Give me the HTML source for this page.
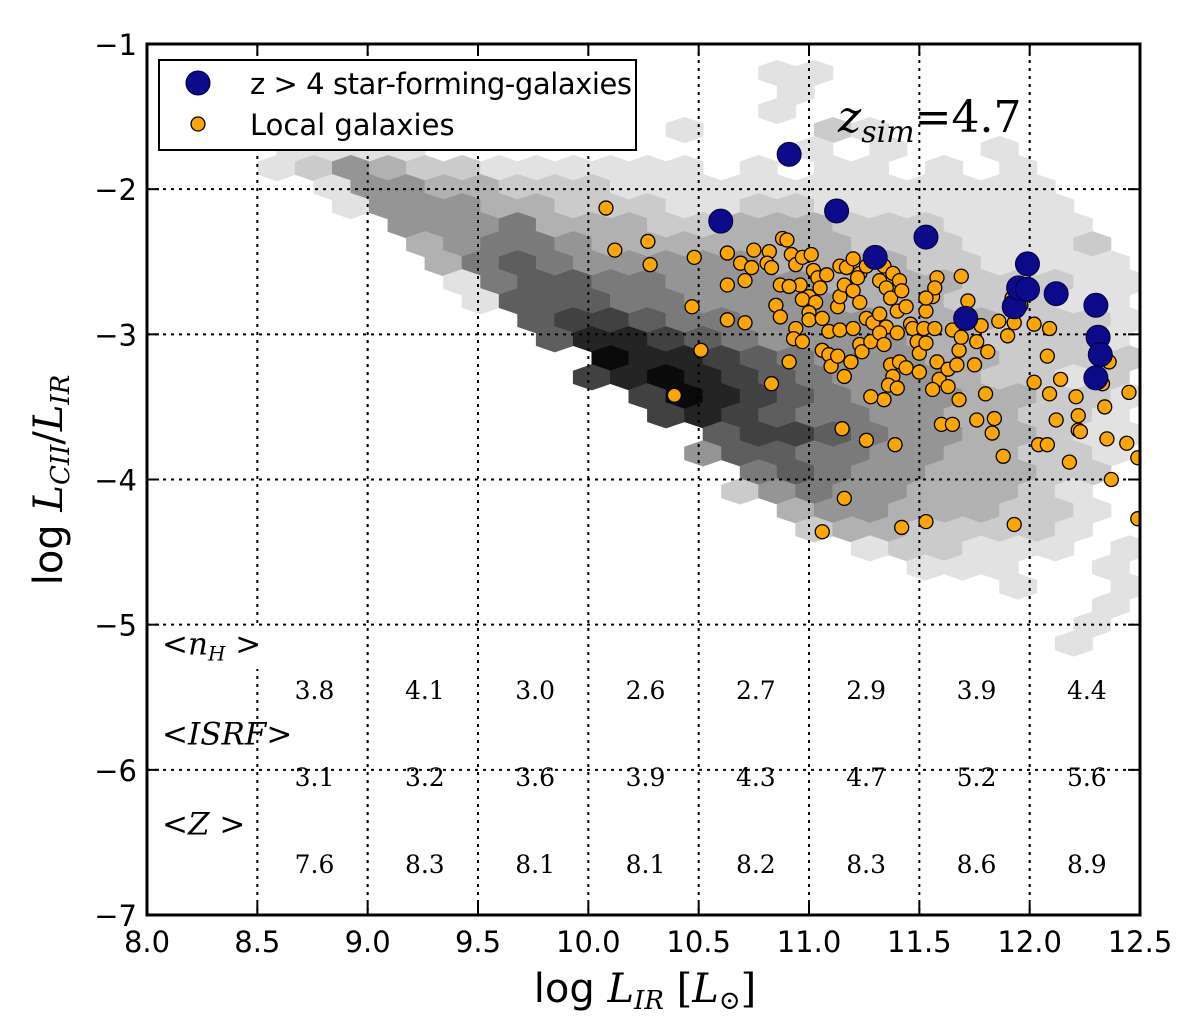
<!DOCTYPE html>
<html><head><meta charset="utf-8"><style>
html,body{margin:0;padding:0;background:#fff;}
svg{display:block;}
.tick{font-family:"DejaVu Sans","Liberation Sans",sans-serif;font-size:29px;fill:#000;}
.mth{font-family:"DejaVu Serif","Liberation Serif",serif;fill:#000;}
</style></head><body>
<svg id="chart" width="1200" height="1019" viewBox="0 0 1200 1019" xmlns="http://www.w3.org/2000/svg">
<defs><clipPath id="clip"><rect x="147" y="44" width="993" height="871"/></clipPath></defs>
<rect width="1200" height="1019" fill="#fff"/>
<g id="hexes" clip-path="url(#clip)"></g>
<g id="grid"></g>
<rect x="149" y="627" width="132" height="42" fill="#fff"/>
<g id="pts" clip-path="url(#clip)"></g>
<g id="ticks"></g>
<rect x="147" y="44" width="993" height="871" fill="none" stroke="#000" stroke-width="3"/>
<g id="table"></g>
<g>
<rect x="159" y="60" width="477" height="90" fill="#fff" stroke="#000" stroke-width="2"/>
<circle cx="198" cy="83" r="12" fill="#0a0a8a" stroke="#000033" stroke-width="1"/>
<text class="tick" x="250" y="94" font-size="27" textLength="382">z &gt; 4 star-forming-galaxies</text>
<circle cx="198" cy="124" r="7" fill="#ffa500" stroke="#000" stroke-width="1.3"/>
<text class="tick" x="250" y="135" font-size="27">Local galaxies</text>
</g>
<text class="mth" x="838" y="132" font-size="44"><tspan font-style="italic">z</tspan><tspan font-style="italic" font-size="30" dy="10">sim</tspan><tspan dy="-10">=4.7</tspan></text>
<text x="645" y="1002" text-anchor="middle" font-size="40" font-family="DejaVu Sans, Liberation Sans, sans-serif">log <tspan class="mth" font-style="italic">L</tspan><tspan class="mth" font-style="italic" font-size="26" dy="7">IR</tspan><tspan class="mth" dy="-7"> [</tspan><tspan class="mth" font-style="italic">L</tspan><tspan class="mth" font-size="26" dy="7">⊙</tspan><tspan class="mth" dy="-7">]</tspan></text>
<text transform="translate(62,480) rotate(-90)" text-anchor="middle" font-size="40" font-family="DejaVu Sans, Liberation Sans, sans-serif">log <tspan class="mth" font-style="italic">L</tspan><tspan class="mth" font-style="italic" font-size="26" dy="7">CII</tspan><tspan class="mth" dy="-7">/</tspan><tspan class="mth" font-style="italic">L</tspan><tspan class="mth" font-style="italic" font-size="26" dy="7">IR</tspan></text>
</svg>
<script>
const xTicks=["8.0","8.5","9.0","9.5","10.0","10.5","11.0","11.5","12.0","12.5"];
const yTicks=["−1","−2","−3","−4","−5","−6","−7"];
const yTickVals=[-1,-2,-3,-4,-5,-6,-7];
const hexX0=8.0, hexDX=0.168, hexY0=-1.2, hexDY=0.131;
const hexRows=[
"000000000000000001100000000","000000000000000001000000000","000000000000000001000000000",
"000000000000001000210000000","000011110000000000101001000","000124322111111010110101000",
"000001443322211111111111100","000001444332221122111111100","000000044453332233322211110",
"000000034554333333322211120","000000003565444443333221111","000000001566554444333322211",
"000000000166655444433322211","000000000067765544443332221","000000000006887654444332221",
"000000000000988765444332222","000000000000789876544432212","000000000000079876544433221",
"000000000000007876554433221","000000000000000677654433211","000000000000000466554433221",
"000000000000000056544333220","000000000000000024544333210","000000000000000003443332210",
"000000000000000000233222210","000000000000000000012211101","000000000000000000000111001",
"000000000000000000000001001","000000000000000000000000001","000000000000000000000000010",
"000000000000000000000000010"];
const highzX=[10.6,10.91,11.125,11.3,11.53,11.71,11.93,11.95,11.99,11.99,12.12,12.3,12.31,12.32,12.3];
const highzY=[-2.22,-1.76,-2.15,-2.47,-2.33,-2.89,-2.81,-2.68,-2.69,-2.515,-2.72,-2.80,-3.02,-3.14,-3.30];
const localPts=[[10.08,-2.13],[10.12,-2.42],[10.27,-2.36],[10.28,-2.52],[10.48,-2.47],[10.47,-2.81],[10.51,-3.11],[10.39,-3.42],
[10.63,-2.44],[10.63,-2.66],[10.63,-2.90],[10.71,-2.92],[10.71,-2.63],[10.69,-2.51],[10.75,-2.42],[10.74,-2.54],[10.82,-2.43],[10.81,-2.51],[10.83,-2.54],
[10.87,-2.66],[10.85,-2.80],[10.87,-2.88],[10.88,-2.34],[10.90,-2.35],[10.92,-2.45],[10.94,-2.52],[10.96,-2.66],[10.91,-2.67],[10.97,-2.47],[11.01,-2.45],
[11.02,-2.56],[11.04,-2.61],[11.08,-2.59],[11.05,-2.68],[11.00,-2.74],[10.97,-2.76],[11.03,-2.78],[11.00,-2.85],[11.00,-2.90],[11.06,-2.89],[10.94,-2.96],
[10.93,-3.03],[10.97,-3.05],[10.91,-3.19],[10.83,-3.34],[11.06,-3.11],[11.09,-3.14],[11.10,-3.22],[11.13,-3.15],[11.16,-3.29],[11.09,-2.98],[11.14,-2.97],
[11.13,-2.81],[11.14,-2.74],[11.14,-2.53],[11.17,-2.54],[11.20,-2.48],[11.16,-2.66],[11.20,-2.70],[11.23,-2.58],[11.22,-2.61],[11.26,-2.53],[11.23,-2.78],
[11.26,-2.89],[11.20,-2.96],[11.19,-3.19],[11.23,-3.07],[11.24,-3.12],[11.28,-3.05],[11.29,-2.92],[11.32,-2.86],[11.34,-2.53],[11.32,-2.63],[11.35,-2.68],
[11.38,-2.58],[11.37,-2.75],[11.41,-2.63],[11.42,-2.70],[11.40,-2.84],[11.44,-2.81],[11.46,-2.93],[11.35,-2.95],[11.32,-2.99],[11.40,-2.99],[11.34,-3.07],
[11.37,-3.21],[11.41,-3.19],[11.44,-3.23],[11.38,-3.29],[11.36,-3.35],[11.34,-3.45],[11.28,-3.43],[11.40,-3.37],[11.47,-2.96],[11.49,-3.05],[11.52,-2.96],
[11.53,-2.84],[11.56,-2.74],[11.58,-2.61],[11.57,-2.68],[11.53,-2.75],[11.50,-3.13],[11.50,-3.26],[11.53,-3.06],[11.57,-2.96],[11.58,-3.19],[11.59,-3.31],
[11.56,-3.38],[11.63,-3.36],[11.63,-3.24],[11.67,-3.21],[11.68,-3.11],[11.65,-2.97],[11.69,-3.02],[11.70,-2.89],[11.72,-2.77],[11.69,-2.60],[11.75,-3.21],
[11.76,-3.05],[11.78,-2.94],[11.81,-3.12],[11.80,-3.41],[11.68,-3.45],[11.86,-2.91],[11.90,-3.01],[11.92,-2.75],[11.96,-2.80],[11.93,-2.92],[12.02,-2.93],
[12.09,-2.96],[12.08,-3.15],[12.02,-3.33],[12.09,-3.41],[12.14,-3.31],[12.21,-3.43],[12.22,-3.56],[12.22,-3.66],[12.23,-3.67],[12.18,-3.88],[12.12,-3.59],
[12.04,-3.76],[12.08,-3.76],[11.88,-3.84],[11.84,-3.58],[11.83,-3.68],[11.76,-3.59],[11.60,-3.62],[11.65,-3.62],[11.39,-3.76],[11.26,-3.73],[11.15,-3.65],
[11.16,-4.13],[11.06,-4.36],[11.42,-4.33],[11.53,-4.29],[11.93,-4.31],[12.36,-3.19],[12.33,-3.34],[12.34,-3.50],[12.35,-3.72],[12.37,-4.00],[12.45,-3.40],
[12.49,-3.85],[12.44,-3.75],[12.49,-4.27]];
const rowLabels=["<nH>","<ISRF>","<Z>"];
const nhVals=["3.8","4.1","3.0","2.6","2.7","2.9","3.9","4.4"];
const isrfVals=["3.1","3.2","3.6","3.9","4.3","4.7","5.2","5.6"];
const zVals=["7.6","8.3","8.1","8.1","8.2","8.3","8.6","8.9"];
const binCenters=[8.75,9.25,9.75,10.25,10.75,11.25,11.75,12.25];
const tableRowY=[-5.45,-6.05,-6.65];

const X=v=>147+(v-8)*220.67;
const Y=v=>44+(-1-v)*145.17;
const NS="http://www.w3.org/2000/svg";
function mk(tag,parent,attrs){const e=document.createElementNS(NS,tag);for(const k in attrs)e.setAttribute(k,attrs[k]);parent.appendChild(e);return e;}
const shades=["none","#e2e2e2","#cbcbcb","#b1b1b1","#959595","#7a7a7a","#5e5e5e","#414141","#242424","#0a0a0a"];
const hg=document.getElementById('hexes');
const hw=hexDX*220.67/2, hh=hexDY*145.17*2/3;
hexRows.forEach((row,j)=>{
  for(let i=0;i<row.length;i++){
    const s=+row[i]; if(!s) continue;
    const cx=X(hexX0+hexDX*i+(j%2?hexDX/2:0)), cy=Y(hexY0-hexDY*j);
    const p=[[0,-hh],[hw,-hh/2],[hw,hh/2],[0,hh],[-hw,hh/2],[-hw,-hh/2]].map(a=>(cx+a[0]).toFixed(1)+','+(cy+a[1]).toFixed(1)).join(' ');
    const e=mk('polygon',hg,{points:p,fill:shades[s],stroke:shades[s],'stroke-width':0.8});
    
    
  }
});
const gg=document.getElementById('grid'), tg=document.getElementById('ticks');
xTicks.forEach(t=>{
  const x=X(parseFloat(t));
  const l=mk('line',gg,{x1:x,y1:44,x2:x,y2:915,stroke:'#000','stroke-width':2,'stroke-dasharray':'3,5'});
  
  
  const tk=mk('line',tg,{x1:x,y1:915,x2:x,y2:903,stroke:'#000','stroke-width':2});
  
  
  const tk2=mk('line',tg,{x1:x,y1:44,x2:x,y2:56,stroke:'#000','stroke-width':2});
  
  
  const tx=mk('text',tg,{x:x,y:952,'text-anchor':'middle',class:'tick'});
  tx.textContent=t;
  
  
});
yTicks.forEach((t,k)=>{
  const y=Y(yTickVals[k]);
  const l=mk('line',gg,{x1:147,y1:y,x2:1140,y2:y,stroke:'#000','stroke-width':2,'stroke-dasharray':'3,5'});
  
  
  const tk=mk('line',tg,{x1:147,y1:y,x2:159,y2:y,stroke:'#000','stroke-width':2});
  
  
  const tk2=mk('line',tg,{x1:1140,y1:y,x2:1128,y2:y,stroke:'#000','stroke-width':2});
  
  
  const tx=mk('text',tg,{x:137,y:y+11,'text-anchor':'end',class:'tick'});
  tx.textContent=t;
  
  
});
const pg=document.getElementById('pts');
localPts.forEach(p=>{
  const c=mk('circle',pg,{cx:X(p[0]),cy:Y(p[1]),r:7,fill:'#ffa500',stroke:'#000','stroke-width':1.3});
  
  
});
highzX.forEach((x,k)=>{
  const c=mk('circle',pg,{cx:X(x),cy:Y(highzY[k]),r:12,fill:'#0a0a8a',stroke:'#000033','stroke-width':1});
  
  
});
const tb=document.getElementById('table');
const lblY=[-5.13,-5.75,-6.37];
const lbls=['&lt;<tspan font-style="italic">n</tspan><tspan font-style="italic" font-size="20" dy="6">H</tspan><tspan dy="-6"> &gt;</tspan>','&lt;<tspan font-style="italic">ISRF</tspan>&gt;','&lt;<tspan font-style="italic">Z</tspan> &gt;'];
rowLabels.forEach((r,k)=>{
  const t=mk('text',tb,{x:162,y:Y(lblY[k])+11,class:'mth','font-size':31});
  t.innerHTML=lbls[k];
  
  
});
[nhVals,isrfVals,zVals].forEach((vals,k)=>{
  vals.forEach((v,i)=>{
    const t=mk('text',tb,{x:X(binCenters[i])+2,y:Y(tableRowY[k])+9,'text-anchor':'middle',class:'mth','font-size':25});
    t.textContent=v;
    
    
  });
});
</script>
</body></html>
